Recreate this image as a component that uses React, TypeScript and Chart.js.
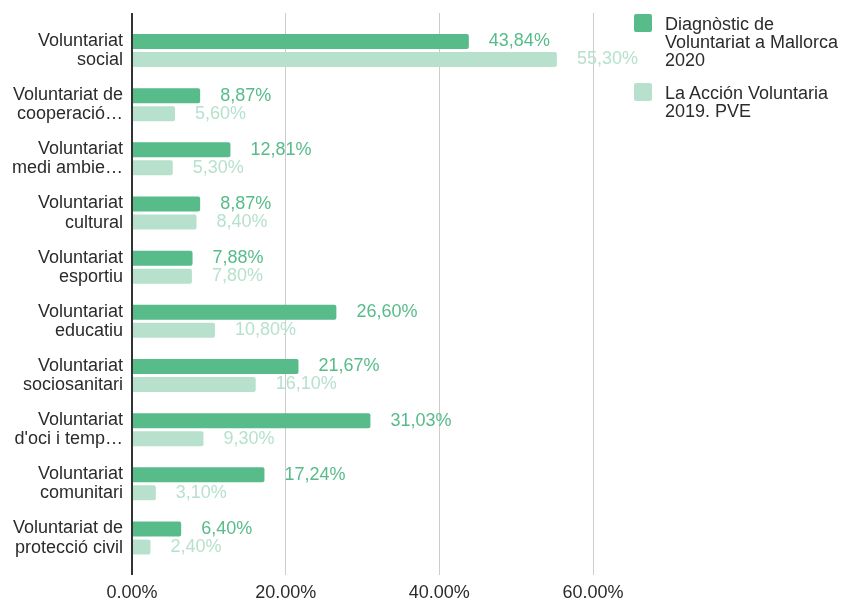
import React, { useEffect, useRef } from "react";
import { Chart, registerables } from "chart.js";

Chart.register(...registerables);

const categories: string[][] = [
  ["Voluntariat", "social"],
  ["Voluntariat de", "cooperació…"],
  ["Voluntariat", "medi ambie…"],
  ["Voluntariat", "cultural"],
  ["Voluntariat", "esportiu"],
  ["Voluntariat", "educatiu"],
  ["Voluntariat", "sociosanitari"],
  ["Voluntariat", "d'oci i temp…"],
  ["Voluntariat", "comunitari"],
  ["Voluntariat de", "protecció civil"],
];

const seriesNames = ["Diagnòstic de Voluntariat a Mallorca 2020", "La Acción Voluntaria 2019. PVE"];
const legendLines: string[][] = [
  ["Diagnòstic de", "Voluntariat a Mallorca", "2020"],
  ["La Acción Voluntaria", "2019. PVE"],
];
const mallorca2020 = [43.84, 8.87, 12.81, 8.87, 7.88, 26.6, 21.67, 31.03, 17.24, 6.4];
const pve2019 = [55.3, 5.6, 5.3, 8.4, 7.8, 10.8, 16.1, 9.3, 3.1, 2.4];
const xTicks = [0, 20, 40, 60];

const colors = ["#57bb8a", "#b7e1cd"];
const FONT = "'Liberation Sans', Arial, sans-serif";
const TEXT = "#2b2b2b";

const valueLabels = {
  id: "valueLabels",
  afterDatasetsDraw(chart: any) {
    const ctx = chart.ctx;
    ctx.save();
    ctx.font = `18px ${FONT}`;
    ctx.textAlign = "left";
    ctx.textBaseline = "middle";
    chart.data.datasets.forEach((ds: any, di: number) => {
      const meta = chart.getDatasetMeta(di);
      meta.data.forEach((bar: any, i: number) => {
        const v = ds.data[i] as number;
        ctx.fillStyle = colors[di];
        ctx.fillText(v.toFixed(2).replace(".", ",") + "%", bar.x + 20, bar.y);
      });
    });
    ctx.restore();
  },
};

export default function App() {
  const ref = useRef<HTMLCanvasElement | null>(null);
  useEffect(() => {
    if (!ref.current) return;
    const chart = new Chart(ref.current, {
      type: "bar",
      data: {
        labels: categories,
        datasets: [
          {
            label: seriesNames[0],
            data: mallorca2020,
            backgroundColor: colors[0],
            borderRadius: 2,
            borderSkipped: "start",
            categoryPercentage: 0.664,
            barPercentage: 0.833,
          },
          {
            label: seriesNames[1],
            data: pve2019,
            backgroundColor: colors[1],
            borderRadius: 2,
            borderSkipped: "start",
            categoryPercentage: 0.664,
            barPercentage: 0.833,
          },
        ],
      },
      options: {
        indexAxis: "y",
        animation: false,
        responsive: false,
        layout: { padding: { left: 0, right: 248, top: 13, bottom: 0 } },
        plugins: { legend: { display: false }, tooltip: { enabled: false } },
        scales: {
          x: {
            min: 0,
            max: 60,
            afterBuildTicks: (scale: any) => {
              scale.ticks = xTicks.map((v) => ({ value: v }));
            },
            afterFit: (scale: any) => {
              scale.height = 35;
            },
            border: { display: false },
            grid: {
              color: (c: any) => (c.tick && c.tick.value === 0 ? "#333333" : "#cccccc"),
              lineWidth: (c: any) => (c.tick && c.tick.value === 0 ? 2 : 1),
              tickLength: 10,
              drawTicks: true,
            },
            ticks: {
              color: TEXT,
              font: { family: FONT, size: 18 },
              padding: 7,
              callback: (v: any) => Number(v).toFixed(2) + "%",
            },
          },
          y: {
            afterFit: (scale: any) => {
              scale.width = 132;
              scale.paddingTop = 0;
              scale.paddingBottom = 0;
            },
            afterBuildTicks: (scale: any) => {
              scale._startValue = -0.692;
              scale._valueRange = 10.19;
            },
            border: { display: false },
            grid: { display: false, drawTicks: false },
            ticks: {
              color: TEXT,
              font: { family: FONT, size: 18, lineHeight: 1.06 },
              padding: 9,
              autoSkip: false,
            },
          },
        },
      },
      plugins: [valueLabels],
    });
    return () => chart.destroy();
  }, []);

  return (
    <div style={{ position: "absolute", left: 0, top: 0, width: 841, height: 600, background: "#fff", fontFamily: FONT }}>
      <canvas ref={ref} width={841} height={600} style={{ position: "absolute", left: 0, top: 0 }} />
      {legendLines.map((lines, i) => (
        <div key={i} style={{ position: "absolute", left: 634, top: i === 0 ? 14 : 83, display: "flex" }}>
          <div style={{ width: 18, height: 18, background: colors[i], borderRadius: 2, marginRight: 13, flex: "none" }} />
          <div style={{ fontSize: 18, lineHeight: "18px", color: TEXT, marginTop: 1, whiteSpace: "nowrap" }}>
            {lines.map((l, j) => (
              <div key={j}>{l}</div>
            ))}
          </div>
        </div>
      ))}
    </div>
  );
}
